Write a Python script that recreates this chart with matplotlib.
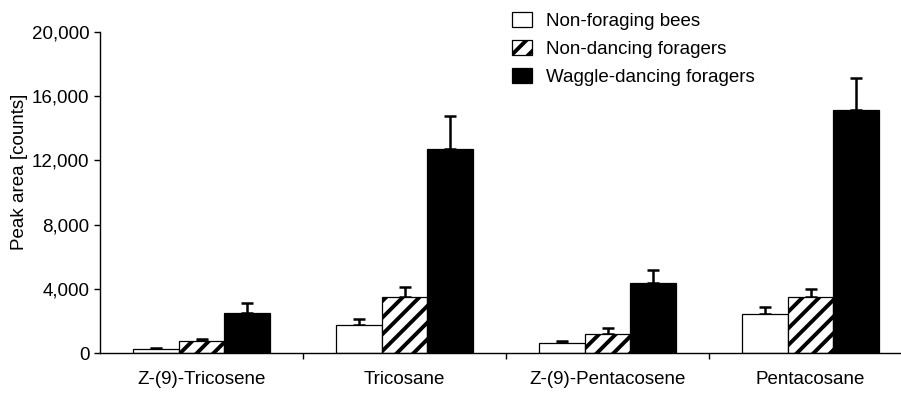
import numpy as np
import matplotlib.pyplot as plt
from matplotlib.ticker import FuncFormatter

plt.rcParams['font.family'] = ['Liberation Sans', 'DejaVu Sans']
plt.rcParams['font.size'] = 13.5
plt.rcParams['hatch.linewidth'] = 2.8

# peak areas per compound (mean and upper error)
compounds = ['Z-(9)-Tricosene', 'Tricosane', 'Z-(9)-Pentacosene', 'Pentacosane']
groups = ['Non-foraging bees', 'Non-dancing foragers', 'Waggle-dancing foragers']
non_foraging = [250, 1740, 620, 2430]
non_foraging_err = [80, 360, 130, 420]
non_dancing = [760, 3510, 1200, 3470]
non_dancing_err = [140, 610, 360, 500]
waggle = [2510, 12710, 4340, 15140]
waggle_err = [590, 2060, 830, 1970]

fig = plt.figure(figsize=(9.01, 3.93), dpi=100)
ax = fig.add_axes([100/901, 1 - 353/393, 801/901, 321/393])

x = np.arange(len(compounds))
w = 0.225
styles = [('white', ''), ('white', '//'), ('black', '')]
series = [(non_foraging, non_foraging_err), (non_dancing, non_dancing_err), (waggle, waggle_err)]

for i, ((vals, errs), (fc, hatch), name) in enumerate(zip(series, styles, groups)):
    ax.bar(x + (i - 1) * w, vals, width=w, color=fc, edgecolor='black', hatch=hatch,
           linewidth=0.9, label=name, zorder=2)
    ax.errorbar(x + (i - 1) * w, vals, yerr=[np.zeros(len(vals)), errs], fmt='none',
                ecolor='black', elinewidth=1.8, capsize=4.3, capthick=1.8, zorder=1)

ax.set_xlim(-0.5, -0.5 + 801/203)
ax.set_ylim(0, 20000)
ax.set_yticks(np.arange(0, 20001, 4000))
ax.yaxis.set_major_formatter(FuncFormatter(lambda v, p: f'{int(v):,}'))
ax.set_xticks(x)
ax.set_xticklabels(compounds)
ax.set_xticks(x[:-1] + 0.5, minor=True)
ax.tick_params(axis='x', which='major', length=0, pad=13)
ax.tick_params(axis='x', which='minor', length=4, width=1)
ax.tick_params(axis='y', length=4.5, width=1, pad=3)

for s in ['top', 'right']:
    ax.spines[s].set_visible(False)
for s in ['left', 'bottom']:
    ax.spines[s].set_linewidth(1)

ax.set_ylabel('Peak area [counts]')
ax.yaxis.set_label_coords(-0.09, 0.564)

ax.legend(loc='upper left', bbox_to_anchor=(503/901, 1 - 3/393), bbox_transform=fig.transFigure,
          frameon=False, borderpad=0, handlelength=1.07, handleheight=0.85,
          handletextpad=0.7, labelspacing=0.53)

fig.savefig('out.png', dpi=100)
